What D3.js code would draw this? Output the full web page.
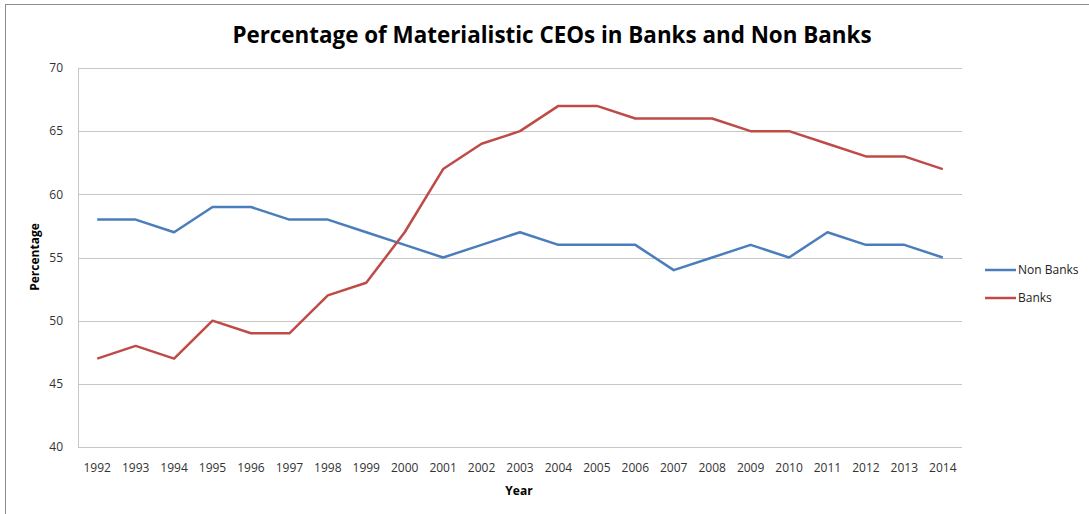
<!DOCTYPE html>
<html>
<head>
<meta charset="utf-8">
<script src="https://cdn.jsdelivr.net/npm/d3@7"></script>
<style>
    body { margin: 0; background: #fff; }
    svg { display: block; font-family: "Open Sans", "Liberation Sans", sans-serif; }
</style>
</head>
<body>
<div id="chart"></div>
<script>
// data
const years = ["1992", "1993", "1994", "1995", "1996", "1997", "1998", "1999", "2000", "2001", "2002",
    "2003", "2004", "2005", "2006", "2007", "2008", "2009", "2010", "2011", "2012", "2013", "2014"];
const nonBanks = [58, 58, 57, 59, 59, 58, 58, 57, 56, 55, 56, 57, 56, 56, 56, 54, 55, 56, 55, 57, 56, 56, 55];
const banks = [47, 48, 47, 50, 49, 49, 52, 53, 57, 62, 64, 65, 67, 67, 66, 66, 66, 65, 65, 64, 63, 63, 62];
const yTicks = [40, 45, 50, 55, 60, 65, 70];

const seriesList = [
    { name: "Non Banks", values: nonBanks, color: "#4a7ebb" },
    { name: "Banks", values: banks, color: "#be4b48" }
];

const width = 1089;
const height = 514;
const plot = { left: 78, right: 962, top: 68, bottom: 447 };

const svg = d3.select("#chart")
    .append("svg")
    .attr("width", width)
    .attr("height", height);

// outer chart frame
svg.append("rect")
    .attr("x", 5.5).attr("y", 4.5)
    .attr("width", width + 10).attr("height", height + 10)
    .attr("fill", "none")
    .attr("stroke", "#8c8c8c")
    .attr("stroke-width", 1);

const x = d3.scaleBand()
    .domain(years)
    .range([plot.left, plot.right]);

const y = d3.scaleLinear()
    .domain([40, 70])
    .range([plot.bottom, plot.top]);

// gridlines
svg.append("g")
    .selectAll("line")
    .data(yTicks)
    .enter().append("line")
    .attr("x1", plot.left)
    .attr("x2", plot.right)
    .attr("y1", d => Math.round(y(d)) + 0.5)
    .attr("y2", d => Math.round(y(d)) + 0.5)
    .attr("stroke", "#c6c6c6")
    .attr("stroke-width", 1);

// y axis line
svg.append("line")
    .attr("x1", plot.left + 0.5).attr("x2", plot.left + 0.5)
    .attr("y1", plot.top).attr("y2", plot.bottom)
    .attr("stroke", "#c6c6c6");

// y tick labels
svg.append("g")
    .selectAll("text")
    .data(yTicks)
    .enter().append("text")
    .attr("x", 63)
    .attr("y", d => y(d))
    .attr("dy", "0.35em")
    .attr("text-anchor", "end")
    .attr("font-size", 12)
    .attr("fill", "#333")
    .text(d => d);

// x tick labels
svg.append("g")
    .selectAll("text")
    .data(years)
    .enter().append("text")
    .attr("x", d => x(d) + x.bandwidth() / 2)
    .attr("y", 468)
    .attr("dy", "0.35em")
    .attr("text-anchor", "middle")
    .attr("font-size", 12)
    .attr("fill", "#333")
    .text(d => d);

// lines
const line = d3.line()
    .x((d, i) => x(years[i]) + x.bandwidth() / 2)
    .y(d => y(d));

svg.append("g")
    .selectAll("path")
    .data(seriesList)
    .enter().append("path")
    .attr("d", d => line(d.values))
    .attr("fill", "none")
    .attr("stroke", d => d.color)
    .attr("stroke-width", 2.5)
    .attr("stroke-linejoin", "round");

// title
svg.append("text")
    .attr("x", 552)
    .attr("y", 35)
    .attr("dy", "0.35em")
    .attr("text-anchor", "middle")
    .attr("font-size", 22.4)
    .attr("font-weight", "bold")
    .attr("fill", "#000")
    .text("Percentage of Materialistic CEOs in Banks and Non Banks");

// axis titles
svg.append("text")
    .attr("transform", "translate(35,257) rotate(-90)")
    .attr("dy", "0.35em")
    .attr("text-anchor", "middle")
    .attr("font-size", 12)
    .attr("font-weight", "bold")
    .text("Percentage");

svg.append("text")
    .attr("x", 519)
    .attr("y", 491)
    .attr("dy", "0.35em")
    .attr("text-anchor", "middle")
    .attr("font-size", 12)
    .attr("font-weight", "bold")
    .text("Year");

// legend
const legend = svg.append("g")
    .selectAll("g")
    .data(seriesList)
    .enter().append("g")
    .attr("transform", (d, i) => `translate(985,${270 + i * 28})`);

legend.append("line")
    .attr("x1", 0).attr("x2", 31)
    .attr("stroke", d => d.color)
    .attr("stroke-width", 2.5);

legend.append("text")
    .attr("x", 33)
    .attr("dy", "0.35em")
    .attr("font-size", 12)
    .attr("fill", "#222")
    .text(d => d.name);
</script>
</body>
</html>
